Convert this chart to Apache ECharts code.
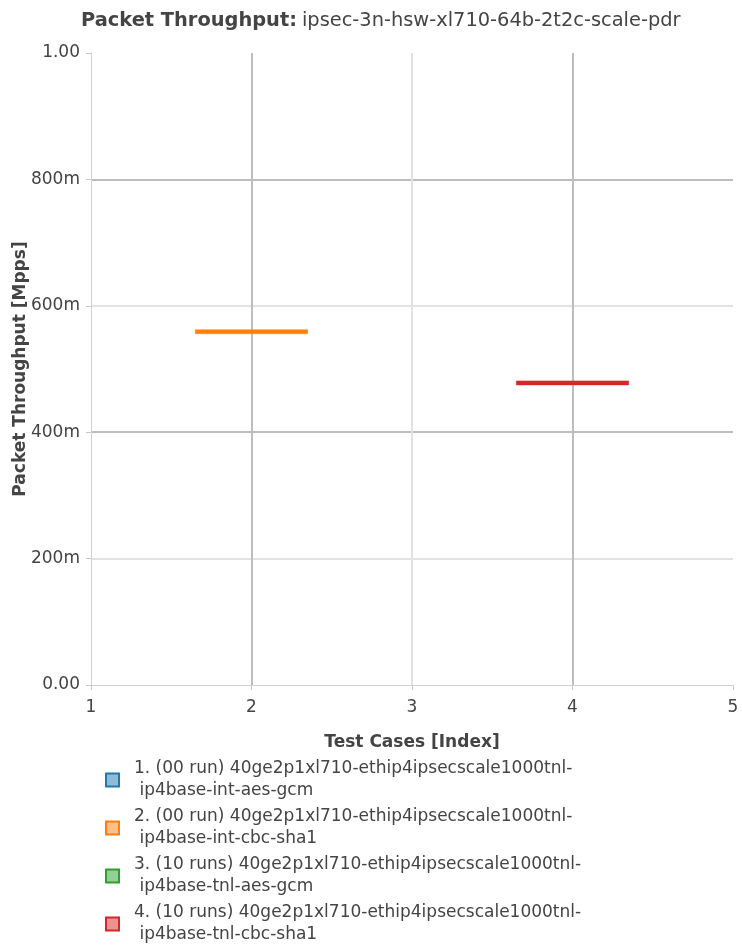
<!DOCTYPE html>
<html>
<head>
<meta charset="utf-8">
<script src="https://cdn.jsdelivr.net/npm/echarts@6/dist/echarts.min.js"></script>
<style>
html,body{margin:0;padding:0;background:#fff;}
#chart{width:742px;height:947px;}
</style>
</head>
<body>
<div id="chart"></div>
<script>
// ---- data ----
const titleBold = 'Packet Throughput:';
const titleRest = 'ipsec-3n-hsw-xl710-64b-2t2c-scale-pdr';
const seriesNames = [
  '1. (00 run) 40ge2p1xl710-ethip4ipsecscale1000tnl-\n ip4base-int-aes-gcm',
  '2. (00 run) 40ge2p1xl710-ethip4ipsecscale1000tnl-\n ip4base-int-cbc-sha1',
  '3. (10 runs) 40ge2p1xl710-ethip4ipsecscale1000tnl-\n ip4base-tnl-aes-gcm',
  '4. (10 runs) 40ge2p1xl710-ethip4ipsecscale1000tnl-\n ip4base-tnl-cbc-sha1'
];
const seriesColors = ['#1f77b4', '#ff7f0e', '#2ca02c', '#d62728'];
const seriesFill = ['rgba(31,119,180,0.5)', 'rgba(255,127,14,0.5)', 'rgba(44,160,44,0.5)', 'rgba(214,39,40,0.5)'];
// test-case index of each series
const seriesX = [1, 2, 3, 4];
// values (Mpps) per series; empty = no data drawn
const values1 = [];
const values2 = [0.559];
const values3 = [];
const values4 = [0.478];
const seriesValues = [values1, values2, values3, values4];
const xTicks = [1, 2, 3, 4, 5];
const yTickLabels = {0: '0.00', 0.2: '200m', 0.4: '400m', 0.6: '600m', 0.8: '800m', 1: '1.00'};

const chart = echarts.init(document.getElementById('chart'), null, {renderer: 'canvas'});
const FONT = 'DejaVu Sans';
const BOX_HALF = 0.35;

const series = seriesNames.map((name, i) => ({
  name: name,
  type: 'custom',
  itemStyle: {color: seriesColors[i]},
  data: seriesValues[i].map(v => [seriesX[i], v]),
  renderItem: function (params, api) {
    const x = api.value(0), v = api.value(1);
    const p1 = api.coord([x - BOX_HALF, v]);
    const p2 = api.coord([x + BOX_HALF, v]);
    return {
      type: 'rect',
      shape: {x: p1[0], y: p1[1] - 2, width: p2[0] - p1[0], height: 4},
      style: {fill: seriesColors[i], stroke: seriesFill[i], lineWidth: 1}
    };
  }
}));

chart.setOption({
  animation: false,
  backgroundColor: '#fff',
  title: {
    text: '{b|' + titleBold + '} {n|' + titleRest + '}',
    left: 76,
    top: 6,
    textStyle: {
      fontWeight: 'normal',
      rich: {
        b: {fontFamily: FONT, fontSize: 19.4, fontWeight: 'bold', color: '#444'},
        n: {fontFamily: FONT, fontSize: 19.4, fontWeight: 'normal', color: '#444'}
      }
    }
  },
  grid: {left: 91, right: 9, top: 53, bottom: 262, containLabel: false, outerBoundsMode: 'none'},
  xAxis: {
    type: 'value',
    min: xTicks[0], max: xTicks[xTicks.length - 1], interval: 1,
    name: 'Test Cases [Index]',
    nameLocation: 'middle', nameGap: 49, nameMoveOverlap: false,
    nameTextStyle: {fontFamily: FONT, fontSize: 17, fontWeight: 'bold', color: '#444'},
    axisLine: {show: true, lineStyle: {color: '#d0d0d0', width: 1}},
    axisTick: {show: true, length: 5, lineStyle: {color: '#c8c8c8'}},
    axisLabel: {fontFamily: FONT, fontSize: 17, color: '#444', margin: 14},
    splitLine: {show: true, showMinLine: false, showMaxLine: false,
      lineStyle: {color: ['#bdbdbd', '#e2e2e2', '#bdbdbd'], width: 2}}
  },
  yAxis: {
    type: 'value',
    min: 0, max: 1, interval: 0.2,
    name: 'Packet Throughput [Mpps]',
    nameLocation: 'middle', nameGap: 62, nameRotate: 90, nameMoveOverlap: false,
    nameTextStyle: {fontFamily: FONT, fontSize: 17, fontWeight: 'bold', color: '#444'},
    axisLine: {show: true, lineStyle: {color: '#d0d0d0', width: 1}},
    axisTick: {show: true, length: 5, lineStyle: {color: '#c8c8c8'}},
    axisLabel: {fontFamily: FONT, fontSize: 17, color: '#444', margin: 11,
      formatter: v => yTickLabels[Math.round(v * 10) / 10]},
    splitLine: {show: true, showMinLine: false, showMaxLine: false,
      lineStyle: {color: ['#e2e2e2', '#bdbdbd', '#e2e2e2', '#bdbdbd'], width: 2}}
  },
  legend: {
    orient: 'vertical',
    left: 100, top: 753,
    height: 190,
    itemWidth: 13, itemHeight: 13,
    itemGap: 4,
    icon: 'rect',
    selectedMode: false,
    textStyle: {fontFamily: FONT, fontSize: 17, color: '#444', lineHeight: 22, padding: [0, 0, 0, 10]},
    data: seriesNames.map((n, i) => ({
      name: n,
      itemStyle: {color: seriesFill[i], borderColor: seriesColors[i], borderWidth: 2}
    }))
  },
  series: series
});
</script>
</body>
</html>
